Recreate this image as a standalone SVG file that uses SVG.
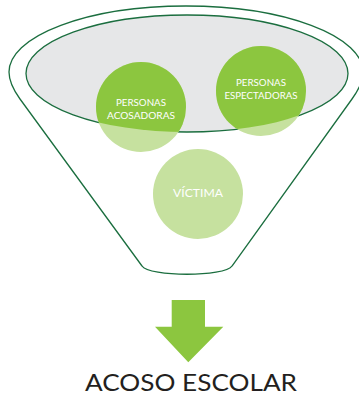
<svg xmlns="http://www.w3.org/2000/svg" width="359" height="397" viewBox="0 0 359 397">
<style>
.ln{fill:none;stroke:#1b6e3f;stroke-width:1.3}
.lt{fill:#c6e19f}
.dk{fill:#8cc63f}
.t{fill:#ffffff;font-family:Lato,"Open Sans",sans-serif;text-anchor:middle}
</style>
<defs>
<clipPath id="inner"><ellipse cx="187" cy="73.5" rx="161" ry="58.5"/></clipPath>
</defs>
<rect width="359" height="397" fill="#ffffff"/>
<g id="connectors"></g>
<g id="funnel">
<path class="ln" d="M142,266 L20,99 C12,88 9,80 9,72 A177,66 0 0 1 363,72 C363,80 360,88 352,99 L232,266 C225,277 149,277 142,266 Z"/>
<ellipse cx="187" cy="73.5" rx="161" ry="58.5" fill="#e6e7e8" stroke="#1b6e3f" stroke-width="1.3"/>
</g>
<g id="acosadoras">
<circle class="lt" cx="141" cy="107" r="45"/>
<circle class="dk" cx="141" cy="107" r="45" clip-path="url(#inner)"/>
<text class="t" x="141" y="106" font-size="9.5" textLength="50" lengthAdjust="spacingAndGlyphs">PERSONAS</text>
<text class="t" x="141" y="118.7" font-size="9.5" textLength="68" lengthAdjust="spacingAndGlyphs">ACOSADORAS</text>
</g>
<g id="espectadoras">
<circle class="lt" cx="261" cy="91" r="45"/>
<circle class="dk" cx="261" cy="91" r="45" clip-path="url(#inner)"/>
<text class="t" x="261" y="86" font-size="9.5" textLength="50" lengthAdjust="spacingAndGlyphs">PERSONAS</text>
<text class="t" x="261" y="98.7" font-size="9.5" textLength="73" lengthAdjust="spacingAndGlyphs">ESPECTADORAS</text>
</g>
<g id="victima">
<circle class="lt" cx="198" cy="194" r="45"/>
<text class="t" x="198" y="196.7" font-size="12" textLength="50" lengthAdjust="spacingAndGlyphs">VÍCTIMA</text>
</g>
<g id="arrow">
<polygon class="dk" points="171.7,300 205,300 205,326.7 223.3,326.7 188.3,362.3 155,326.7 171.7,326.7"/>
</g>
<g id="acoso">
<text x="191" y="391" font-size="24" fill="#231f20" font-family="Lato,'Open Sans',sans-serif" text-anchor="middle" textLength="212" lengthAdjust="spacingAndGlyphs">ACOSO ESCOLAR</text>
</g>
</svg>
